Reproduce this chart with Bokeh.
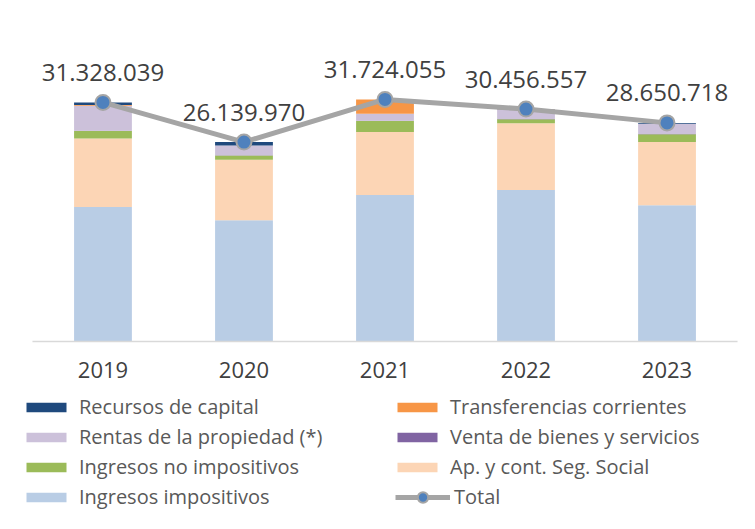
from bokeh.plotting import figure
from bokeh.models import ColumnDataSource, FactorRange, Range1d, Legend, LegendItem
from bokeh.core.properties import value
from bokeh.embed import file_html
from bokeh.resources import INLINE

# ---- data (millions) ----
years = ["2019", "2020", "2021", "2022", "2023"]
ingresos_impositivos = [17.638, 15.900, 19.194, 19.867, 17.861]
ap_seg_social = [8.96, 7.92, 8.26, 8.74, 8.30]
ingresos_no_impositivos = [1.00, 0.57, 1.44, 0.52, 1.00]
venta_bienes = [0.02, 0.02, 0.02, 0.02, 0.02]
rentas_propiedad = [3.28, 1.27, 0.92, 1.27, 1.35]
transferencias = [0.10, 0.02, 1.87, 0.02, 0.02]
recursos_capital = [0.33, 0.44, 0.02, 0.02, 0.10]
totals = [31328039, 26139970, 31724055, 30456557, 28650718]

series = ["imp", "seg", "noimp", "venta", "rentas", "transf", "capital"]
names = ["Ingresos impositivos", "Ap. y cont. Seg. Social", "Ingresos no impositivos",
         "Venta de bienes y servicios", "Rentas de la propiedad (*)",
         "Transferencias corrientes", "Recursos de capital"]
colors = ["#B9CDE5", "#FCD5B5", "#9BBB59", "#8064A2", "#CCC1DA", "#F79646", "#1F497D"]

src = ColumnDataSource(dict(
    x=years, imp=ingresos_impositivos, seg=ap_seg_social, noimp=ingresos_no_impositivos,
    venta=venta_bienes, rentas=rentas_propiedad, transf=transferencias, capital=recursos_capital,
    total=[t / 1e6 for t in totals],
    label=[f"{t:,}".replace(",", ".") for t in totals],
    base=[0] * len(years),
))

FONT = "Open Sans"
TXT = "#595959"

# the frame also holds the area under the bars where the year labels and legend sit
p = figure(x_range=FactorRange(*years, range_padding=0.1275, range_padding_units="absolute"),
           y_range=Range1d(-24.12, 42.07),
           width=755, height=529,
           output_backend="svg", toolbar_location=None,
           min_border_left=14, min_border_right=0, min_border_top=20, min_border_bottom=4)

rs = p.vbar_stack(series, x="x", width=0.41, source=src, color=colors, line_color=None)

# category axis baseline (drawn across the categories) and year labels
p.segment(x0=[0], x1=[len(years)], y0=[0], y1=[0], line_color="#D9D9D9", line_width=1.5)
p.text(x="x", y="base", text="x", source=src, text_align="center", text_baseline="middle",
       y_offset=29, text_font=value(FONT), text_font_size="22px", text_color="#404040")

line = p.line(x="x", y="total", source=src, line_color="#A5A5A5", line_width=5)
pts = p.scatter(x="x", y="total", source=src, size=15, fill_color="#4F81BD",
                line_color="#A5A5A5", line_width=2)
p.text(x="x", y="total", text="label", source=src, text_align="center",
       text_baseline="middle", y_offset=-30, text_font=value(FONT),
       text_font_size="24px", text_color="#404040")

p.xaxis.visible = False
p.yaxis.visible = False
p.xgrid.visible = False
p.ygrid.visible = False
p.outline_line_color = None

common = dict(label_height=20, padding=0, margin=0,
              border_line_color=None, background_fill_alpha=0,
              label_text_font=FONT, label_text_font_size="20px", label_text_color=TXT)

items = [
    LegendItem(label=names[6], renderers=[rs[6]]),
    LegendItem(label=names[5], renderers=[rs[5]]),
    LegendItem(label=names[4], renderers=[rs[4]]),
    LegendItem(label=names[3], renderers=[rs[3]]),
    LegendItem(label=names[2], renderers=[rs[2]]),
    LegendItem(label=names[1], renderers=[rs[1]]),
    LegendItem(label=names[0], renderers=[rs[0]]),
]
legend = Legend(items=items, orientation="horizontal", ncols=2,
                glyph_width=50, glyph_height=12, label_width=310, spacing=3,
                label_standoff=8, location=(7, 15), **common)
p.add_layout(legend, "center")

legend_total = Legend(items=[LegendItem(label="Total", renderers=[line, pts])],
                      glyph_width=55, glyph_height=26, label_standoff=4,
                      location=(381, 15), **common)
p.add_layout(legend_total, "center")

open("out.html", "w").write(file_html(p, INLINE))
